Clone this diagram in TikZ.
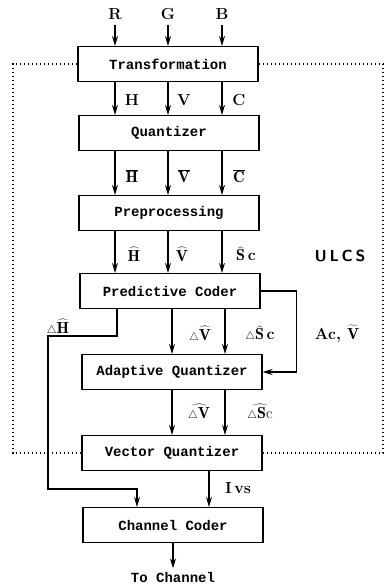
\documentclass[tikz,border=0pt]{standalone}
\usepackage{fontspec}
\setmonofont{Liberation Mono}
\usetikzlibrary{arrows.meta}
\tikzset{
  blk/.style={draw, line width=1.1pt, minimum width=180pt, minimum height=35pt,
    inner sep=0pt, font=\ttfamily\bfseries\fontsize{14}{16}\selectfont},
  arr/.style={line width=1.1pt, -{Stealth[length=10pt,width=6pt]}},
  ulcs/.style={line width=1.2pt, dash pattern=on 1.8pt off 2.2pt},
  lbl/.style={font=\bfseries\fontsize{16}{18}\selectfont, inner sep=1pt},
}
\newcommand{\tri}{{\scriptstyle\triangle}}
\begin{document}
\begin{tikzpicture}[x=1pt,y=-1pt]
    \useasboundingbox (0,0) rectangle (386,588);
    % blocks
    \node[blk] (trans) at (168,64)  {Transformation};
    \node[blk] (quant) at (169,133) {Quantizer};
    \node[blk] (prep)  at (169,213) {Preprocessing};
    \node[blk] (pred)  at (170,291) {Predictive Coder};
    \node[blk] (aq)    at (172,372) {Adaptive Quantizer};
    \node[blk] (vq)    at (172,453) {Vector Quantizer};
    \node[blk] (cc)    at (173,525) {Channel Coder};
    \node[font=\ttfamily\bfseries\fontsize{14}{16}\selectfont] (out) at (173,577) {To Channel};

    % inputs
    \node[lbl] (r) at (115,14) {R};
    \node[lbl] (g) at (168,14) {G};
    \node[lbl] (b) at (222,14) {B};
    \foreach \n in {r,g,b}
        \draw[arr] (\n.south) ++(0,4) -- (\n |- trans.north);

    % transformation -> quantizer -> preprocessing -> predictive coder
    \foreach \x in {115,168,222} {
        \draw[arr] (trans.south -| \x,0) -- (quant.north -| \x,0);
        \draw[arr] (quant.south -| \x,0) -- (prep.north -| \x,0);
        \draw[arr] (prep.south -| \x,0) -- (pred.north -| \x,0);
    }
    \node[lbl] (h1) at (132,100) {H};
    \node[lbl] (v1) at (184,100) {V};
    \node[lbl] (c1) at (239,100) {C};
    \node[lbl] (h2) at (132,176) {$\overline{\mathbf{H}}$};
    \node[lbl] (v2) at (184,176) {$\overline{\mathbf{V}}$};
    \node[lbl] (c2) at (239,176) {$\overline{\mathbf{C}}$};
    \node[lbl] (h3) at (134,254) {$\widehat{\mathbf{H}}$};
    \node[lbl] (v3) at (182,254) {$\widehat{\mathbf{V}}$};
    \node[lbl] (c3) at (246,254) {$\widehat{\mathbf{S}}$\,c};
    \node[lbl, font=\sffamily\bfseries\fontsize{16}{18}\selectfont] (ulcs) at (340,256) {U\,L\,C\,S};

    % predictive coder -> adaptive quantizer
    \foreach \x in {172,225}
        \draw[arr] (pred.south -| \x,0) -- (aq.north -| \x,0);
    \node[lbl] (dv) at (200,334) {$\tri\widehat{\mathbf{V}}$};
    \node[lbl] (ds) at (260,334) {$\tri\widehat{\mathbf{S}}$\,c};
    \draw[arr] (pred.east) -- ++(36,0) |- (aq.east);
    \node[lbl] (acv) at (337,334) {Ac,\ $\widetilde{\mathbf{V}}$};

    % adaptive quantizer -> vector quantizer
    \foreach \x in {172,225}
        \draw[arr] (aq.south -| \x,0) -- (vq.north -| \x,0);
    \node[lbl] (qdv) at (199,412) {$\widehat{\tri\mathbf{V}}$};
    \node[lbl] (qds) at (260,412) {$\widehat{\tri\mathbf{S}\mathrm{c}}$};

    % vector quantizer -> channel coder
    \draw[arr] (vq.south -| 209,0) -- (cc.north -| 209,0);
    \node[lbl] (ivs) at (238,488) {I\,vs};
    \draw[arr] (pred.south -| 117,0) -- (117,336) -- (48,336) -- (48,489)
        -- (137,489) -- (cc.north -| 137,0);
    \node[lbl] (dh) at (58,327) {$\tri\widehat{\mathbf{H}}$};
    \draw[arr] (cc.south) -- (out.north);

    % ULCS frame
    \draw[ulcs] (trans.west) -- (13,64) -- (13,453) -- (vq.west);
    \draw[ulcs] (trans.east) -- (383,64) -- (383,453) -- (vq.east);
\end{tikzpicture}
\end{document}
